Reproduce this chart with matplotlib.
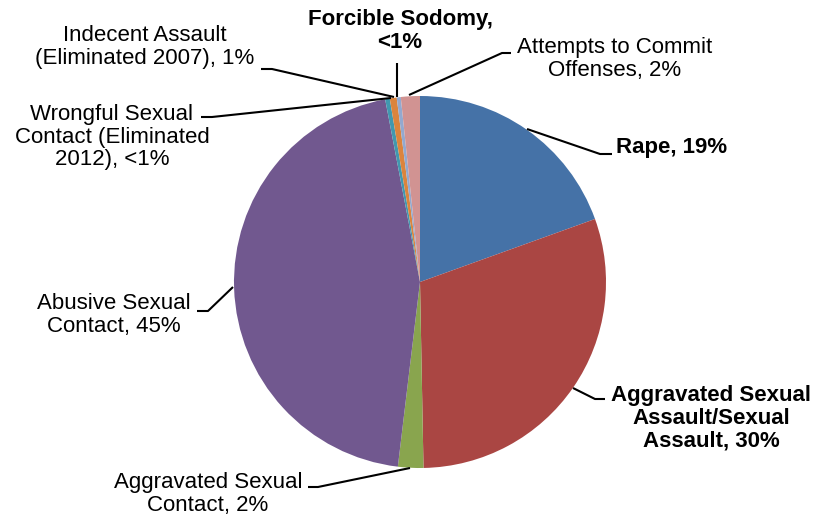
import matplotlib.pyplot as plt

# data (percent of cases)
labels = ["Rape, 19%",
          "Aggravated Sexual\nAssault/Sexual\nAssault, 30%",
          "Aggravated Sexual\nContact, 2%",
          "Abusive Sexual\nContact, 45%",
          "Wrongful Sexual\nContact (Eliminated\n2012), <1%",
          "Indecent Assault\n(Eliminated 2007), 1%",
          "Forcible Sodomy,\n<1%",
          "Attempts to Commit\nOffenses, 2%"]
values = [19.5, 30.2, 2.2, 45.1, 0.4, 0.6, 0.35, 1.65]
bold = [True, True, False, False, False, False, True, False]
colors = ["#4572A7", "#AA4643", "#89A54E", "#71588F",
          "#4198AF", "#DB843D", "#93A9CF", "#D19392"]

plt.rcParams['font.family'] = ['Liberation Sans', 'DejaVu Sans']

W, H = 816, 518
fig = plt.figure(figsize=(W / 100, H / 100), dpi=100)
ax = fig.add_axes([0, 0, 1, 1])
ax.set_xlim(0, W)
ax.set_ylim(0, H)
ax.set_aspect('equal')
ax.axis('off')

cx, cy, r = 420, H - 282, 186
ax.pie(values, colors=colors, startangle=90, counterclock=False,
       center=(cx, cy), radius=r, wedgeprops=dict(linewidth=0),
       frame=True)
ax.set_xlim(0, W)
ax.set_ylim(0, H)
ax.axis('off')

# label centres and leader lines (pixel coords, y from top)
label_pos = [(672, 148), (711, 418), (208, 494), (114, 315),
             (112, 137), (145, 47), (400, 31), (615, 59)]
leaders = [[(527, 129), (600, 154), (612, 154)],
           [(573, 388), (595, 399), (605, 399)],
           [(410, 468), (318, 487), (308, 487)],
           [(233, 287), (208, 311), (197, 311)],
           [(391, 98), (212, 117), (201, 117)],
           [(394, 97), (272, 69), (261, 69)],
           [(397, 97), (397, 63)],
           [(409, 95), (502, 53), (511, 53)]]

for lab, (px, py), b, pts in zip(labels, label_pos, bold, leaders):
    ax.text(px, H - py, lab, ha='center', va='center', fontsize=16,
            fontweight='bold' if b else 'normal', linespacing=1.1)
    xs = [p[0] for p in pts]
    ys = [H - p[1] for p in pts]
    ax.plot(xs, ys, color='black', lw=1.5, solid_capstyle='butt')

fig.savefig('out.png', dpi=100)
